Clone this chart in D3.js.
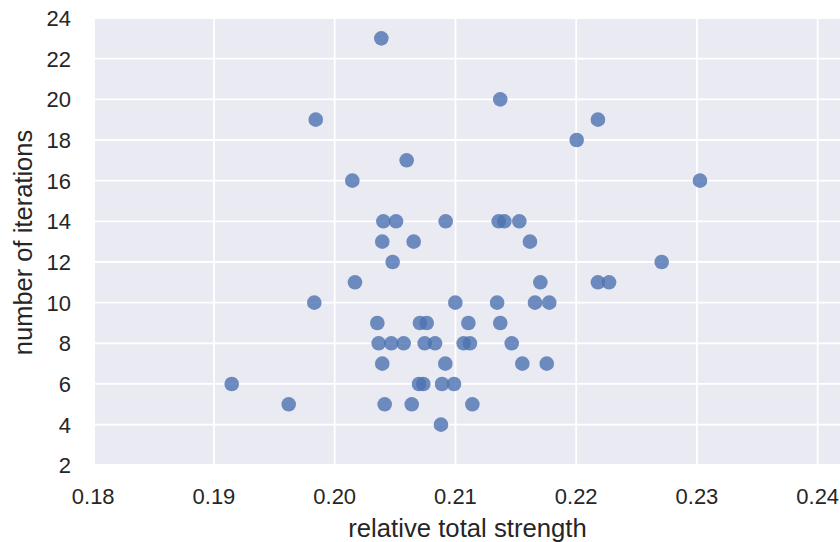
<!DOCTYPE html>
<html>
<head>
<meta charset="utf-8">
<script src="https://cdn.jsdelivr.net/npm/d3@7"></script>
<style>
  body { margin: 0; background: #fff; }
  svg text { font-family: "Liberation Sans", Arial, sans-serif; fill: #262626; }
</style>
</head>
<body>
<div id="chart"></div>
<script>
// relative total strength (x) and number of iterations (y)
var strength = [
    0.20386,
    0.21371,
    0.19843, 0.22180,
    0.22004,
    0.20596,
    0.20146, 0.23025,
    0.20403, 0.20508, 0.20919, 0.21358, 0.21405, 0.21529,
    0.20394, 0.20654, 0.21617,
    0.20480, 0.22708,
    0.20168, 0.21703, 0.22180, 0.22272,
    0.19831, 0.20999, 0.21345, 0.21659, 0.21777,
    0.20353, 0.20706, 0.20762, 0.21107, 0.21371,
    0.20364, 0.20469, 0.20571, 0.20745, 0.20831, 0.21068, 0.21120, 0.21466,
    0.20394, 0.20916, 0.21554, 0.21756,
    0.19147, 0.20698, 0.20734, 0.20889, 0.20988,
    0.19619, 0.20414, 0.20638, 0.21140,
    0.20880
];
var iterations = [
    23,
    20,
    19, 19,
    18,
    17,
    16, 16,
    14, 14, 14, 14, 14, 14,
    13, 13, 13,
    12, 12,
    11, 11, 11, 11,
    10, 10, 10, 10, 10,
    9, 9, 9, 9, 9,
    8, 8, 8, 8, 8, 8, 8, 8,
    7, 7, 7, 7,
    6, 6, 6, 6, 6,
    5, 5, 5, 5,
    4
];
var xTicks = [0.18, 0.19, 0.20, 0.21, 0.22, 0.23, 0.24];
var yTicks = [2, 4, 6, 8, 10, 12, 14, 16, 18, 20, 22, 24];

const width = 840;
const height = 542;
const plotLeft = 95, plotTop = 19, plotRight = 845, plotBottom = 464;

const x = d3.scaleLinear()
    .domain([0.18, 0.24])
    .range([93.2, 817.7]);

const y = d3.scaleLinear()
    .domain([2, 24])
    .range([465.3, 18.0]);

const svg = d3.select("#chart").append("svg")
    .attr("width", width)
    .attr("height", height)
    .attr("viewBox", [0, 0, width, height]);

svg.append("clipPath").attr("id", "clip")
    .append("rect")
    .attr("x", plotLeft).attr("y", plotTop)
    .attr("width", plotRight - plotLeft).attr("height", plotBottom - plotTop);

// background
svg.append("rect")
    .attr("x", plotLeft).attr("y", plotTop)
    .attr("width", plotRight - plotLeft).attr("height", plotBottom - plotTop)
    .attr("fill", "#eaeaf2");

const grid = svg.append("g").attr("clip-path", "url(#clip)");

grid.selectAll("line.vx")
    .data(xTicks)
    .join("line")
    .attr("class", "vx")
    .attr("x1", d => x(d)).attr("x2", d => x(d))
    .attr("y1", plotTop).attr("y2", plotBottom)
    .attr("stroke", "#fff").attr("stroke-width", 1.8);

grid.selectAll("line.hy")
    .data(yTicks)
    .join("line")
    .attr("class", "hy")
    .attr("x1", plotLeft).attr("x2", plotRight)
    .attr("y1", d => y(d)).attr("y2", d => y(d))
    .attr("stroke", "#fff").attr("stroke-width", 1.8);

// points
grid.selectAll("circle")
    .data(strength.map((s, i) => [s, iterations[i]]))
    .join("circle")
    .attr("cx", d => x(d[0]))
    .attr("cy", d => y(d[1]))
    .attr("r", 7.3)
    .attr("fill", "#4c72b0")
    .attr("fill-opacity", 0.8);

// x axis tick labels
svg.append("g")
    .selectAll("text")
    .data(xTicks)
    .join("text")
    .attr("x", d => x(d))
    .attr("y", 496.5)
    .attr("dy", "0.36em")
    .attr("text-anchor", "middle")
    .attr("font-size", 22)
    .text(d => d3.format(".2f")(d));

// y axis tick labels
svg.append("g")
    .selectAll("text")
    .data(yTicks)
    .join("text")
    .attr("x", 71)
    .attr("y", d => y(d))
    .attr("dy", "0.36em")
    .attr("text-anchor", "end")
    .attr("font-size", 22)
    .text(d => d);

svg.append("text")
    .attr("x", 467.5)
    .attr("y", 536.7)
    .attr("text-anchor", "middle")
    .attr("font-size", 25.7)
    .text("relative total strength");

svg.append("text")
    .attr("transform", "translate(32,242.5) rotate(-90)")
    .attr("text-anchor", "middle")
    .attr("font-size", 25.5)
    .text("number of iterations");
</script>
</body>
</html>
